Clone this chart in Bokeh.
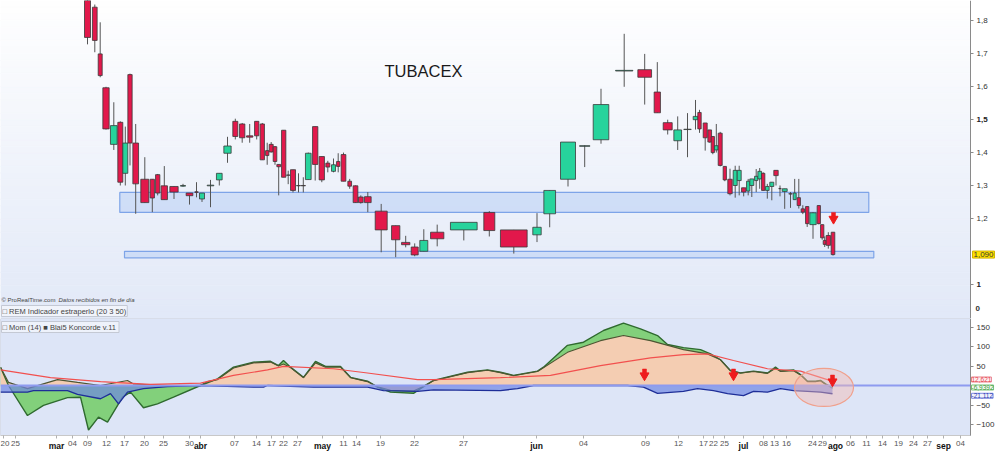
import numpy as np
from bokeh.plotting import figure
from bokeh.layouts import column
from bokeh.models import ColumnDataSource, FixedTicker, Label, Range1d
from bokeh.embed import file_html
from bokeh.resources import INLINE

FONT = "Liberation Sans"

# ---------------- price candles (x = slot position on the time axis) ----------------
cx = [87, 94.3, 99.7, 105.5, 113.3, 119.8, 124.8, 129.5, 135.2, 144.3,
      151.8, 157.2, 163.8, 173.5, 182.5, 189, 196, 201.5, 210, 218.8,
      227, 234.8, 241.7, 249.2, 256.2, 261.8, 266.7, 270.7, 274.5, 278.2,
      283.2, 287.7, 292.5, 298, 302.8, 307.8, 314.7, 321.3, 327.3, 333,
      337.7, 343, 349.2, 355, 360.3, 367.3, 380.7, 395.2, 405.2, 414.2,
      423.3, 436.7, 463.3, 488.8, 513.3, 536.5, 549.2, 567.5, 584.2, 600.5,
      623.7, 644.2, 656.8, 667.2, 677.2, 687, 695, 699, 704.7, 709.2,
      712.3, 715.8, 719.7, 724.3, 729.5, 734.7, 738.7, 743.2, 747.7, 751.3,
      755.7, 759.2, 762.7, 766.8, 771.3, 775.5, 779.5, 784.2, 790, 794.2,
      798.3, 802.3, 806.7, 812.5, 818.3, 821.7, 824.2, 827.8, 832.5]
cw = [6, 4.7, 4, 6.3, 6.7, 5, 5, 4.3, 5.7, 8,
      4.3, 4.3, 6.3, 8.3, 5, 6.7, 3.3, 5, 6.7, 5.7,
      7.3, 5, 5.3, 6.3, 4.3, 4.3, 3.3, 4, 3.6, 3.7,
      4.3, 3.3, 5, 4, 4.3, 5.7, 5.3, 5.3, 4, 4,
      3.3, 4.7, 3.7, 4.7, 4.7, 6.7, 12, 8.3, 8.3, 7,
      8, 13.3, 26.7, 11, 26.7, 8.4, 11.7, 15, 10.3, 15.6,
      17.3, 13.7, 6.3, 9, 7.7, 7.4, 4.6, 3.4, 4, 3.7,
      3.3, 3.7, 4, 3.3, 4.4, 4, 4, 4.3, 3.3, 4,
      3.3, 3.7, 3.3, 3.7, 4, 4.4, 2.4, 5, 3.4, 3,
      3.3, 3.3, 3.3, 6.4, 3.3, 3.3, 3, 4.3, 3.6]
c_open = [1.92, 1.842, 1.70, 1.597, 1.425, 1.492, 1.337, 1.637, 1.429, 1.319,
          1.319, 1.333, 1.299, 1.297, 1.298, 1.277, 1.281, 1.259, 1.299, 1.317,
          1.398, 1.495, 1.487, 1.451, 1.495, 1.487, 1.406, 1.425, 1.418, 1.364,
          1.468, 1.332, 1.348, 1.300, 1.300, 1.318, 1.479, 1.388, 1.368, 1.343,
          1.373, 1.394, 1.313, 1.299, 1.265, 1.266, 1.222, 1.178, 1.127, 1.113,
          1.100, 1.158, 1.165, 1.218, 1.165, 1.150, 1.214, 1.319, 1.419, 1.439,
          1.648, 1.652, 1.584, 1.491, 1.436, 1.470, 1.500, 1.522, 1.490, 1.469,
          1.449, 1.408, 1.459, 1.358, 1.319, 1.300, 1.315, 1.293, 1.283, 1.300,
          1.315, 1.320, 1.337, 1.285, 1.297, 1.346, 1.291, 1.282, 1.275, 1.257,
          1.263, 1.229, 1.236, 1.181, 1.239, 1.181, 1.133, 1.148, 1.158]
c_high = [1.93, 1.85, 1.796, 1.600, 1.553, 1.495, 1.479, 1.640, 1.487, 1.386,
          1.319, 1.335, 1.359, 1.297, 1.305, 1.277, 1.310, 1.277, 1.317, 1.337,
          1.448, 1.503, 1.490, 1.487, 1.495, 1.490, 1.430, 1.432, 1.420, 1.364,
          1.468, 1.345, 1.348, 1.337, 1.325, 1.400, 1.479, 1.388, 1.375, 1.382,
          1.398, 1.400, 1.320, 1.300, 1.270, 1.280, 1.244, 1.178, 1.147, 1.124,
          1.167, 1.181, 1.188, 1.222, 1.165, 1.216, 1.285, 1.432, 1.422, 1.594,
          1.761, 1.700, 1.675, 1.500, 1.510, 1.520, 1.560, 1.530, 1.490, 1.469,
          1.449, 1.487, 1.463, 1.358, 1.351, 1.360, 1.360, 1.293, 1.320, 1.320,
          1.350, 1.353, 1.340, 1.305, 1.310, 1.346, 1.300, 1.290, 1.280, 1.320,
          1.320, 1.240, 1.236, 1.219, 1.239, 1.181, 1.145, 1.158, 1.158]
c_low = [1.729, 1.705, 1.629, 1.470, 1.408, 1.300, 1.300, 1.361, 1.214, 1.248,
         1.219, 1.270, 1.257, 1.259, 1.296, 1.242, 1.264, 1.250, 1.234, 1.300,
         1.369, 1.440, 1.430, 1.430, 1.440, 1.378, 1.363, 1.400, 1.363, 1.270,
         1.325, 1.304, 1.279, 1.279, 1.279, 1.318, 1.315, 1.310, 1.340, 1.340,
         1.340, 1.313, 1.290, 1.248, 1.245, 1.219, 1.097, 1.082, 1.112, 1.085,
         1.100, 1.115, 1.133, 1.145, 1.093, 1.128, 1.173, 1.297, 1.356, 1.427,
         1.600, 1.546, 1.521, 1.455, 1.408, 1.386, 1.470, 1.460, 1.406, 1.430,
         1.395, 1.400, 1.358, 1.313, 1.270, 1.263, 1.270, 1.267, 1.270, 1.265,
         1.280, 1.290, 1.285, 1.260, 1.255, 1.300, 1.267, 1.229, 1.232, 1.257,
         1.230, 1.213, 1.174, 1.138, 1.182, 1.135, 1.113, 1.108, 1.087]
c_close = [1.750, 1.741, 1.634, 1.472, 1.482, 1.310, 1.429, 1.429, 1.305, 1.248,
           1.262, 1.277, 1.257, 1.280, 1.300, 1.269, 1.279, 1.277, 1.301, 1.337,
           1.420, 1.449, 1.445, 1.447, 1.451, 1.378, 1.391, 1.402, 1.373, 1.357,
           1.325, 1.331, 1.285, 1.299, 1.299, 1.398, 1.364, 1.317, 1.356, 1.363,
           1.358, 1.313, 1.298, 1.248, 1.248, 1.248, 1.165, 1.135, 1.120, 1.089,
           1.133, 1.138, 1.188, 1.163, 1.113, 1.173, 1.285, 1.432, 1.421, 1.546,
           1.650, 1.629, 1.521, 1.469, 1.469, 1.471, 1.510, 1.472, 1.445, 1.432,
           1.400, 1.421, 1.361, 1.317, 1.275, 1.346, 1.346, 1.280, 1.313, 1.320,
           1.328, 1.343, 1.285, 1.297, 1.310, 1.330, 1.290, 1.290, 1.274, 1.277,
           1.239, 1.219, 1.184, 1.217, 1.184, 1.141, 1.121, 1.118, 1.090]

# support zones
zone_left = [119.3, 124]
zone_right = [868.3, 873.3]
zone_bottom = [1.218, 1.080]
zone_top = [1.279, 1.100]

last_price = 1.090
price_ticks = [1.0, 1.2, 1.3, 1.4, 1.5, 1.6, 1.7, 1.8]
price_labels = ["1", "1,2", "1,3", "1,4", "1,5", "1,6", "1,7", "1,8"]
price_bold = {"1", "1,5"}

# ---------------- Koncorde indicator ----------------
green_x = [0, 8, 27, 43, 67, 80, 88, 98, 107, 115, 122, 130, 143, 157, 173, 200, 217, 233, 253, 270,
           278, 283, 290, 303, 315, 325, 340, 350, 367, 377, 390, 413, 420, 433, 467, 487, 500, 513, 537, 543,
           567, 583, 603, 623, 640, 657, 667, 683, 700, 710, 720, 730, 740, 753, 767, 775, 780, 793, 800, 807,
           815, 820, 825, 832]
green_v = [47, 0, -77, -51, -31, -30, -114, -81, -94, -60, -30, -17, -57, -47, -30, 0, 17, 47, 60, 62,
           51, 64, 47, 21, 62, 49, 49, 21, 11, -4, -17, -20, -8, 13, 34, 40, 34, 26, 37, 47,
           103, 111, 141, 160, 145, 128, 105, 97, 92, 81, 66, 38, 32, 37, 32, 47, 37, 40, 28, 11,
           11, 13, 4, -7]
brown_x = [0, 8, 27, 57, 77, 100, 127, 133, 167, 200, 207, 217, 233, 253, 270, 278, 283, 290, 303, 315,
           325, 340, 350, 367, 377, 390, 413, 420, 433, 467, 487, 500, 513, 537, 567, 600, 623, 650, 683, 707,
           720, 730, 740, 753, 767, 775, 780, 793, 800, 807, 815, 820, 825, 832]
brown_v = [47, 8, -8, 15, 8, 0, 13, 4, 0, 0, 10, 15, 45, 58, 60, 50, 55, 46, 20, 58,
           47, 47, 20, 10, -3, -12, -14, -6, 12, 33, 39, 33, 25, 36, 85, 115, 128, 115, 92, 81,
           66, 38, 32, 36, 31, 44, 36, 38, 27, 10, 10, 12, 3, -3]
blue_x = [0, 27, 33, 67, 77, 100, 110, 118, 127, 143, 167, 200, 253, 263, 267, 313, 367, 383, 417, 433,
          500, 517, 533, 627, 643, 657, 683, 697, 713, 727, 743, 753, 767, 780, 793, 807, 820, 832]
blue_v = [-17, -17, -13, -13, -23, -34, -21, -47, -17, -8, -3, 0, -4, -4, 0, -4, -4, -13, -15, -11,
          -13, -8, 0, 0, -4, -20, -15, -8, -13, -21, -26, -15, -17, -8, -13, -15, -17, -21.112]
avg_x = [0, 50, 100, 150, 200, 233, 267, 283, 333, 367, 417, 433, 500, 550, 600, 650, 683, 707, 733, 767,
         800, 830]
avg_v = [40, 20, 10, 3, 6, 26, 40, 49, 43, 32, 15, 15, 20, 26, 51, 71, 79, 81, 64, 43,
         37, 12.621]
last_vals = [12.621, -6.9392, -21.112]
last_label_pos = [15.4, -5.1, -26.4]     # stacked so the three value tags do not overlap
k_ticks = [-100, -50, 50, 100, 150]

# signal arrows (x, level) in the indicator and the price panel
k_arrow_x = [644, 733, 832]
k_arrow_v = [29.5, 29.5, 14]
p_arrow_x = [833]
p_arrow_v = [1.203]

# ---------------- time axis ----------------
xt_pos = [3, 15, 56, 72, 87, 106, 124, 144, 163, 189, 200, 234, 256, 271, 283, 297, 322, 343, 356, 380,
          414, 463, 536, 583, 645, 678, 703, 713, 724, 743, 763, 774, 786, 812, 822, 835, 850, 866, 882, 898,
          913, 927, 943, 960]
xt_lab = ["20", "25", "mar", "04", "09", "12", "17", "20", "25", "30", "abr", "07", "14", "17", "22", "27",
          "may", "11", "14", "19", "22", "27", "jun", "04", "09", "12", "17", "22", "25", "jul", "08", "13",
          "16", "24", "29", "ago", "06", "11", "14", "19", "24", "27", "sep", "04"]
months = {"mar", "abr", "may", "jun", "jul", "ago", "sep"}

# ---------------- geometry / styles ----------------
W = 1000
X_AX = 970                           # position of the price/indicator scale
P_LO, P_HI = 0.8957, 1.8623          # price canvas: 318 px
P_PX = 318 / (P_HI - P_LO)
K_PX = 0.39                          # indicator px per unit
K_HI = 67 / K_PX                     # canvas top (y=318)
K_LO = -(452 - 385) / K_PX           # canvas bottom (y=452)
K_AX = -(435 - 385) / K_PX           # time axis line
GREEN = "#27d39c"
RED = "#e2184b"
ARROW = "#ee1c1c"


def style_axis(ax, color="#333333"):
    ax.major_label_text_font = FONT
    ax.major_label_text_font_size = "8px"
    ax.major_label_text_color = color
    ax.major_tick_out = 3
    ax.major_tick_in = 0
    ax.minor_tick_line_color = None
    ax.axis_line_color = "#8a8a8a"
    ax.major_tick_line_color = "#8a8a8a"


def draw_arrows(fig, xs, vs, px_per_unit):
    stem_y = [v + 2.5 / px_per_unit for v in vs]
    head_y = [v - 1.5 / px_per_unit for v in vs]
    fig.rect(x=xs, y=stem_y, width=4, height=5, width_units="screen", height_units="screen",
             fill_color=ARROW, line_color=ARROW, line_width=0.5)
    fig.scatter(x=xs, y=head_y, marker="inverted_triangle", size=9, fill_color=ARROW, line_color=ARROW)


top = figure(width=W, height=318, x_range=Range1d(0, W), y_range=Range1d(P_LO, P_HI),
             output_backend="svg", toolbar_location=None, x_axis_location=None,
             y_axis_location="right", min_border=0)
top.grid.visible = False
top.outline_line_color = None
top.background_fill_color = "#ffffff"
top.border_fill_color = "#ffffff"

# soft vertical gradient background of the price area
nb = 48
edges = np.linspace(P_LO, P_HI, nb + 1)
c_b = np.array([226, 233, 248])
c_t = np.array([255, 255, 255])
cols = ["#%02x%02x%02x" % tuple((c_b + (c_t - c_b) * ((i + 0.5) / nb)).astype(int)) for i in range(nb)]
top.quad(left=0, right=X_AX, bottom=edges[:-1], top=edges[1:], fill_color=cols, line_color=cols, line_width=0.6)

top.quad(left=zone_left, right=zone_right, bottom=zone_bottom, top=zone_top,
         fill_color="#c6d7f6", fill_alpha=0.75, line_color="#7ea4e8", line_width=1.2)

body_top = [max(o, c) for o, c in zip(c_open, c_close)]
body_bot = [min(o, c) for o, c in zip(c_open, c_close)]
body_col = [GREEN if c >= o else RED for o, c in zip(c_open, c_close)]
src = ColumnDataSource(dict(x=cx, w=cw, h=c_high, l=c_low, t=body_top, b=body_bot, col=body_col))
top.segment(x0="x", y0="h", x1="x", y1="l", source=src, line_color="#555555", line_width=1)
top.vbar(x="x", width="w", top="t", bottom="b", source=src, fill_color="col",
         line_color="#3a3a3a", line_width=0.8)

draw_arrows(top, p_arrow_x, p_arrow_v, P_PX)

ya = top.yaxis[0]
ya.fixed_location = X_AX
ya.ticker = FixedTicker(ticks=price_ticks)
ya.major_label_overrides = {t: ("" if l in price_bold else l) for t, l in zip(price_ticks, price_labels)}
style_axis(ya)
ya.major_label_standoff = 3
for t, l in zip(price_ticks, price_labels):
    if l in price_bold:
        top.add_layout(Label(x=X_AX + 6, y=t, text=l, text_font=FONT, text_font_size="8px",
                             text_font_style="bold", text_color="#222222", text_baseline="middle"))

top.add_layout(Label(x=384, y=P_HI - 70 / P_PX, text="TUBACEX", text_font=FONT, text_font_size="16.5px",
                     text_color="#1a1a1a", text_baseline="middle"))
top.add_layout(Label(x=972, y=last_price, text="1,090", text_font=FONT, text_font_size="8px",
                     text_color="#333333", text_baseline="middle", background_fill_color="#ffe100",
                     border_line_color="#d4b400", padding=1))
top.add_layout(Label(x=975, y=P_HI - 308 / P_PX, text="0", text_font=FONT, text_font_size="8px",
                     text_font_style="bold", text_color="#333333", text_baseline="middle"))
top.add_layout(Label(x=1, y=P_HI - 299 / P_PX, text="© ProRealTime.com", text_font=FONT,
                     text_font_size="6px", text_color="#444444", text_baseline="middle"))
top.add_layout(Label(x=58, y=P_HI - 299 / P_PX, text="Datos recibidos en fin de día", text_font=FONT,
                     text_font_size="6px", text_font_style="italic", text_color="#444444",
                     text_baseline="middle"))
top.add_layout(Label(x=1, y=P_HI - 310.5 / P_PX, text="□ REM Indicador estraperlo (20 3 50)", text_font=FONT,
                     text_font_size="7.5px", text_color="#444444", text_baseline="middle",
                     background_fill_color="#f1f4fb", border_line_color="#c4c9d4", padding=1))

# ---------------- indicator panel ----------------
bot = figure(width=W, height=134, x_range=top.x_range, y_range=Range1d(K_LO, K_HI),
             output_backend="svg", toolbar_location=None, y_axis_location="right",
             x_axis_location="below", min_border=0)
bot.grid.visible = False
bot.outline_line_color = None
bot.background_fill_color = "#ffffff"
bot.border_fill_color = "#ffffff"

bot.quad(left=0, right=X_AX, bottom=K_AX, top=K_HI, fill_color="#dde5f7", line_color="#b9c2d6", line_width=1)

bot.varea(x=green_x, y1=0, y2=green_v, fill_color="#7ccf74", fill_alpha=0.95)
bot.varea(x=brown_x, y1=0, y2=brown_v, fill_color="#f4cdb2", fill_alpha=1.0)
bot.line(green_x, green_v, line_color="#2f6a2f", line_width=1.4)
bot.line(brown_x, brown_v, line_color="#4e5533", line_width=1.1)
bot.varea(x=blue_x, y1=0, y2=blue_v, fill_color="#6f88e3", fill_alpha=0.7)
bot.line(blue_x, blue_v, line_color="#1e2e98", line_width=1.3)
bot.segment(x0=[0], y0=[0], x1=[X_AX], y1=[0], line_color="#8e9bf0", line_width=2)
bot.line(avg_x, avg_v, line_color="#f2504e", line_width=1.2)

bot.ellipse(x=[823.5], y=[-5], width=[59], height=[38], height_units="screen",
            fill_color="#f5b9b0", fill_alpha=0.45, line_color="#f0a08c", line_width=1.2)

draw_arrows(bot, k_arrow_x, k_arrow_v, K_PX)

yb = bot.yaxis[0]
yb.fixed_location = X_AX
yb.bounds = (K_AX, K_HI)
yb.ticker = FixedTicker(ticks=k_ticks)
style_axis(yb)
yb.major_label_standoff = 3

xb = bot.xaxis[0]
xb.fixed_location = K_AX
xb.bounds = (0, X_AX)
xb.ticker = FixedTicker(ticks=xt_pos)
xb.major_label_overrides = {p: ("" if l in months else l) for p, l in zip(xt_pos, xt_lab)}
style_axis(xb, "#555555")
xb.axis_line_color = "#c8c8c8"
xb.major_tick_line_color = "#b0b0b0"
xb.major_label_standoff = 2

for p_, l_ in zip(xt_pos, xt_lab):
    if l_ in months:
        bot.add_layout(Label(x=p_, y=-(445 - 385) / K_PX, text=l_, text_font=FONT, text_font_size="8.5px",
                             text_font_style="bold", text_color="#111111", text_align="center",
                             text_baseline="middle"))

for val, pos, tc, bc, bg in zip(last_vals, last_label_pos,
                                ["#e8404a", "#3a9a3a", "#2b3ab0"],
                                ["#e8808a", "#7ac47a", "#7a88e0"],
                                ["#fdf2f2", "#f2faf2", "#f2f4fd"]):
    bot.add_layout(Label(x=971, y=pos, text=("%g" % val).replace(".", ","), text_font=FONT,
                         text_font_size="6.5px", text_color=tc, text_baseline="middle",
                         background_fill_color=bg, border_line_color=bc, padding=0))

bot.add_layout(Label(x=1, y=(385 - 326.5) / K_PX, text="□ Mom (14)  ■ Blai5 Koncorde v.11", text_font=FONT,
                     text_font_size="7.5px", text_color="#444444", text_baseline="middle",
                     background_fill_color="#eef2fb", border_line_color="#c4c9d4", padding=1))

p = column(top, bot, spacing=0)
open("out.html", "w").write(file_html(p, INLINE))
